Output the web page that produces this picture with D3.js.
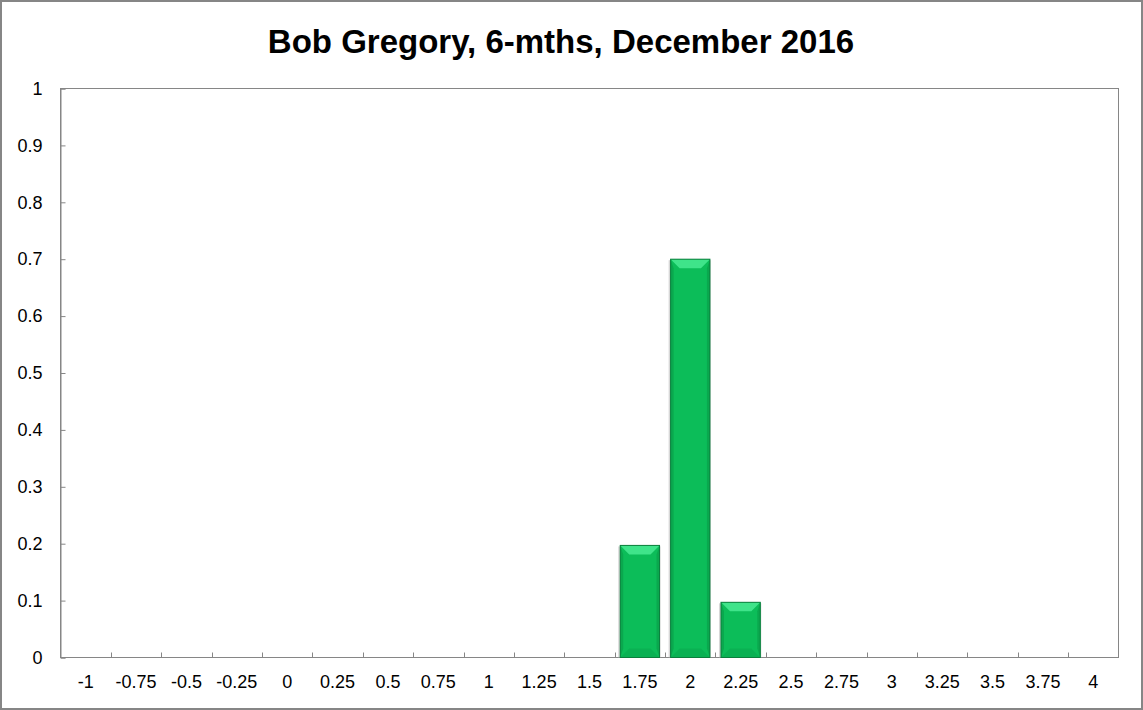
<!DOCTYPE html>
<html><head><meta charset="utf-8">
<script src="https://cdn.jsdelivr.net/npm/d3@7"></script>
<style>
html,body{margin:0;padding:0;background:#fff;}
svg{display:block;}
</style></head>
<body>
<script>
const categories = ["-1","-0.75","-0.5","-0.25","0","0.25","0.5","0.75","1","1.25","1.5","1.75","2","2.25","2.5","2.75","3","3.25","3.5","3.75","4"];
const values = [0,0,0,0,0,0,0,0,0,0,0,0.197,0.7,0.097,0,0,0,0,0,0,0];
const yTicks = [0,0.1,0.2,0.3,0.4,0.5,0.6,0.7,0.8,0.9,1];
const titleText = "Bob Gregory, 6-mths, December 2016";

const W = 1143, H = 710;
const m = {left:60.5, right:1118.5, top:88.5, bottom:657.5};
const svg = d3.select("body").append("svg").attr("width",W).attr("height",H);

// outer border
svg.append("rect").attr("x",1).attr("y",1).attr("width",W-2).attr("height",H-2)
  .attr("fill","#fff").attr("stroke","#868686").attr("stroke-width",2);

svg.append("text").attr("x",561).attr("y",53).attr("text-anchor","middle")
  .attr("font-family","'Liberation Sans Narrow','Liberation Sans',Arial,sans-serif")
  .attr("font-weight","bold").attr("font-size",33).attr("fill","#000")
  .text(titleText);

const x = d3.scaleBand().domain(categories).range([m.left,m.right]).paddingInner(0.22).paddingOuter(0.11);
const xb = d3.scaleBand().domain(categories).range([m.left,m.right]);
const y = d3.scaleLinear().domain([0,1]).range([m.bottom,m.top]);

// plot area border
svg.append("rect").attr("x",m.left).attr("y",m.top).attr("width",m.right-m.left).attr("height",m.bottom-m.top)
  .attr("fill","none").attr("stroke","#868686").attr("stroke-width",1);

// y axis
const yAxis = d3.axisLeft(y).tickValues(yTicks).tickFormat(d=>String(+d.toFixed(2))).tickSize(-5).tickPadding(18);
const gy = svg.append("g").attr("transform",`translate(${m.left},0)`).call(yAxis);
gy.select(".domain").attr("stroke","#868686");
gy.selectAll(".tick line").attr("stroke","#868686");
gy.selectAll(".tick text").attr("font-family","'Liberation Sans',Arial,sans-serif").attr("font-size",18).attr("fill","#000");

// x axis: labels centered, ticks between categories
const xAxis = d3.axisBottom(x).tickSize(0).tickPadding(18);
const gx = svg.append("g").attr("transform",`translate(0,${m.bottom})`).call(xAxis);
gx.select(".domain").remove();
gx.selectAll(".tick text").attr("font-family","'Liberation Sans',Arial,sans-serif").attr("font-size",18).attr("fill","#000");
svg.append("g").selectAll("line").data(categories.slice(1)).join("line")
  .attr("x1",d=>Math.round(xb(d))+0.5).attr("x2",d=>Math.round(xb(d))+0.5)
  .attr("y1",m.bottom).attr("y2",m.bottom-5).attr("stroke","#868686");
svg.append("line").attr("x1",m.left).attr("x2",m.right).attr("y1",m.bottom).attr("y2",m.bottom).attr("stroke","#868686");

// bars with bevel
const bars = svg.append("g").selectAll("g").data(categories.map((c,i)=>({c,v:values[i]})).filter(d=>d.v>0)).join("g");
bars.each(function(d){
  const g = d3.select(this);
  const x0 = x(d.c), w = x.bandwidth(), y0 = y(d.v), y1 = y(0), b = 9;
  // shadow
  g.append("rect").attr("x",x0-2).attr("y",y0+1).attr("width",w+3).attr("height",y1-y0-1).attr("fill","#bdbdbd").attr("opacity",0.6);
  g.append("rect").attr("x",x0).attr("y",y0).attr("width",w).attr("height",y1-y0).attr("fill","#0cbd59");
  // top bevel
  g.append("polygon").attr("points",`${x0},${y0} ${x0+w},${y0} ${x0+w-b},${y0+b} ${x0+b},${y0+b}`).attr("fill","#3fe48a");
  // left / right
  g.append("polygon").attr("points",`${x0},${y0} ${x0+3},${y0+b} ${x0+3},${y1-b} ${x0},${y1}`).attr("fill","#0aa84e");
  g.append("polygon").attr("points",`${x0+w},${y0} ${x0+w-3},${y0+b} ${x0+w-3},${y1-b} ${x0+w},${y1}`).attr("fill","#0aa84e");
  // bottom
  g.append("polygon").attr("points",`${x0},${y1} ${x0+w},${y1} ${x0+w-b},${y1-b} ${x0+b},${y1-b}`).attr("fill","#0ab153");
  g.append("rect").attr("x",x0).attr("y",y0).attr("width",w).attr("height",y1-y0).attr("fill","none").attr("stroke","#0b7f3d").attr("stroke-width",1);
});
</script>
</body></html>
